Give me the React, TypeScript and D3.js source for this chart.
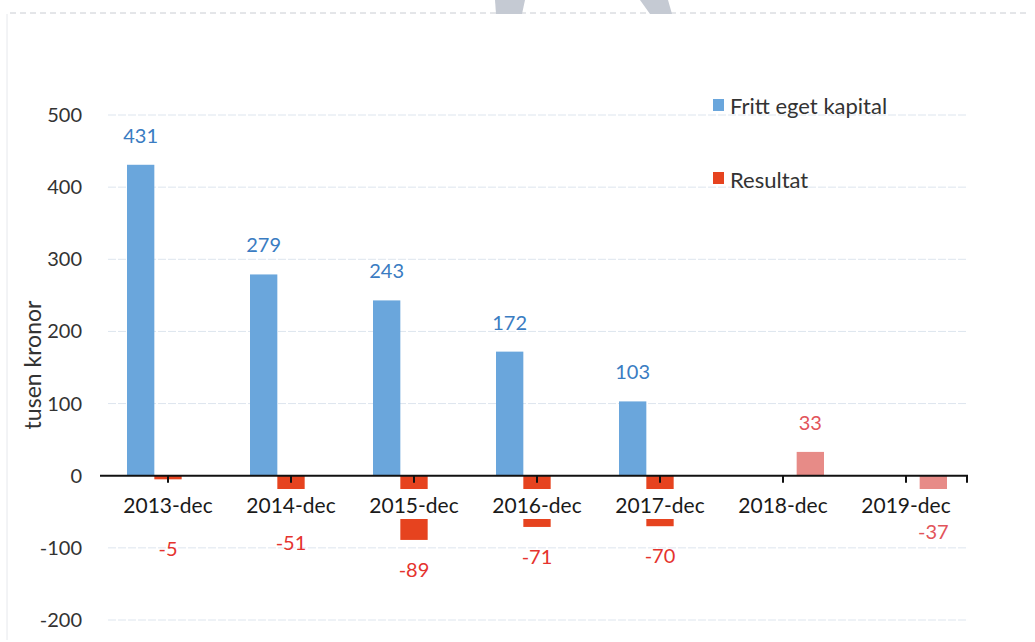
import * as d3 from "d3";

const categories = ["2013-dec", "2014-dec", "2015-dec", "2016-dec", "2017-dec", "2018-dec", "2019-dec"];
const frittEgetKapital = [431, 279, 243, 172, 103, null, null];
const resultat = [-5, -51, -89, -71, -70, null, null];
const prognos = [null, null, null, null, null, 33, -37];
const yTicks = [500, 400, 300, 200, 100, 0, -100, -200];

const W = 1035;
const H = 642;
const FONT = "Lato, 'Open Sans', sans-serif";

const series = [
  { key: "fritt", values: frittEgetKapital, fill: "#6aa6dc", text: "#3a7cc2" },
  { key: "res", values: resultat, fill: "#e6431f", text: "#e5332e" },
  { key: "prog", values: prognos, fill: "#e78b87", text: "#e2545a" },
];

export default function App() {
  const x = d3
    .scaleBand<string>()
    .domain(categories)
    .range([106.5, 967.5])
    .paddingInner(1 / 3)
    .paddingOuter(1 / 6);
  const xs = d3
    .scaleBand<string>()
    .domain(series.map((s) => s.key))
    .range([0, x.bandwidth()]);
  const y = d3.scaleLinear().domain([-200, 500]).range([620, 115]);
  const y0 = y(0);
  const cx = (c: string) => (x(c) as number) + x.bandwidth() / 2;

  return (
    <svg width={W} height={H} style={{ position: "absolute", left: 0, top: 0, background: "#fff" }}>
      {/* scan artefacts */}
      <line x1={10} x2={1030} y1={13} y2={13} stroke="#c9ccd2" strokeDasharray="6 4" strokeWidth={1} />
      <line x1={7} x2={7} y1={14} y2={640} stroke="#e6e8ec" strokeWidth={1} />
      <polygon points="495,0 525,0 522,14 496,14" fill="#c5cad3" />
      <polygon points="640,0 668,0 672,14 650,14" fill="#c5cad3" />

      {/* grid */}
      {yTicks.filter((t) => t !== 0).map((t) => (
        <line key={t} x1={108} x2={968} y1={y(t)} y2={y(t)} stroke="#dde5ee" strokeWidth={1} strokeDasharray="8 2" />
      ))}

      {/* bars */}
      {series.map((s) =>
        s.values.map((v, i) => {
          if (v == null) return null;
          const c = categories[i];
          const bx = (x(c) as number) + (xs(s.key) as number);
          return (
            <rect
              key={s.key + i}
              x={bx}
              width={xs.bandwidth()}
              y={Math.min(y(v), y0)}
              height={Math.abs(y(v) - y0)}
              fill={s.fill}
            />
          );
        })
      )}

      {/* axis */}
      <line x1={100} x2={968} y1={y0} y2={y0} stroke="#111" strokeWidth={2} />
      {[...categories.map(cx), 967].map((tx, i) => (
        <line key={i} x1={tx} x2={tx} y1={y0} y2={y0 + 7} stroke="#111" strokeWidth={2} />
      ))}

      {/* category labels on white boxes */}
      {categories.map((c) => (
        <g key={c}>
          <rect x={cx(c) - 50} y={489} width={100} height={30} fill="#fff" />
          <text x={cx(c)} y={513} textAnchor="middle" fontFamily={FONT} fontSize={21} fill="#1a1a1a">
            {c}
          </text>
        </g>
      ))}

      {/* y labels */}
      {yTicks.map((t) => (
        <text key={t} x={82} y={y(t) + 7} textAnchor="end" fontFamily={FONT} fontSize={20} fill="#333">
          {t}
        </text>
      ))}
      <text
        transform={`translate(41,${365}) rotate(-90)`}
        textAnchor="middle"
        fontFamily={FONT}
        fontSize={23}
        fill="#333"
      >
        tusen kronor
      </text>

      {/* value labels */}
      {series.map((s) =>
        s.values.map((v, i) => {
          if (v == null) return null;
          const c = categories[i];
          const bx = (x(c) as number) + (xs(s.key) as number) + xs.bandwidth() / 2;
          let ly = v >= 0 ? y(v) - 22 : y(v) + 37;
          if (v < 0 && ly < 535) ly = 556;
          return (
            <text key={"l" + s.key + i} x={bx} y={ly} textAnchor="middle" fontFamily={FONT} fontSize={20} fill={s.text}>
              {v}
            </text>
          );
        })
      )}

      {/* legend */}
      <rect x={713} y={99} width={11} height={12} fill="#6aa6dc" />
      <text x={730} y={114} fontFamily={FONT} fontSize={22} fill="#333">Fritt eget kapital</text>
      <rect x={713} y={172} width={11} height={12} fill="#e6431f" />
      <text x={730} y={188} fontFamily={FONT} fontSize={22} fill="#333">Resultat</text>
    </svg>
  );
}
